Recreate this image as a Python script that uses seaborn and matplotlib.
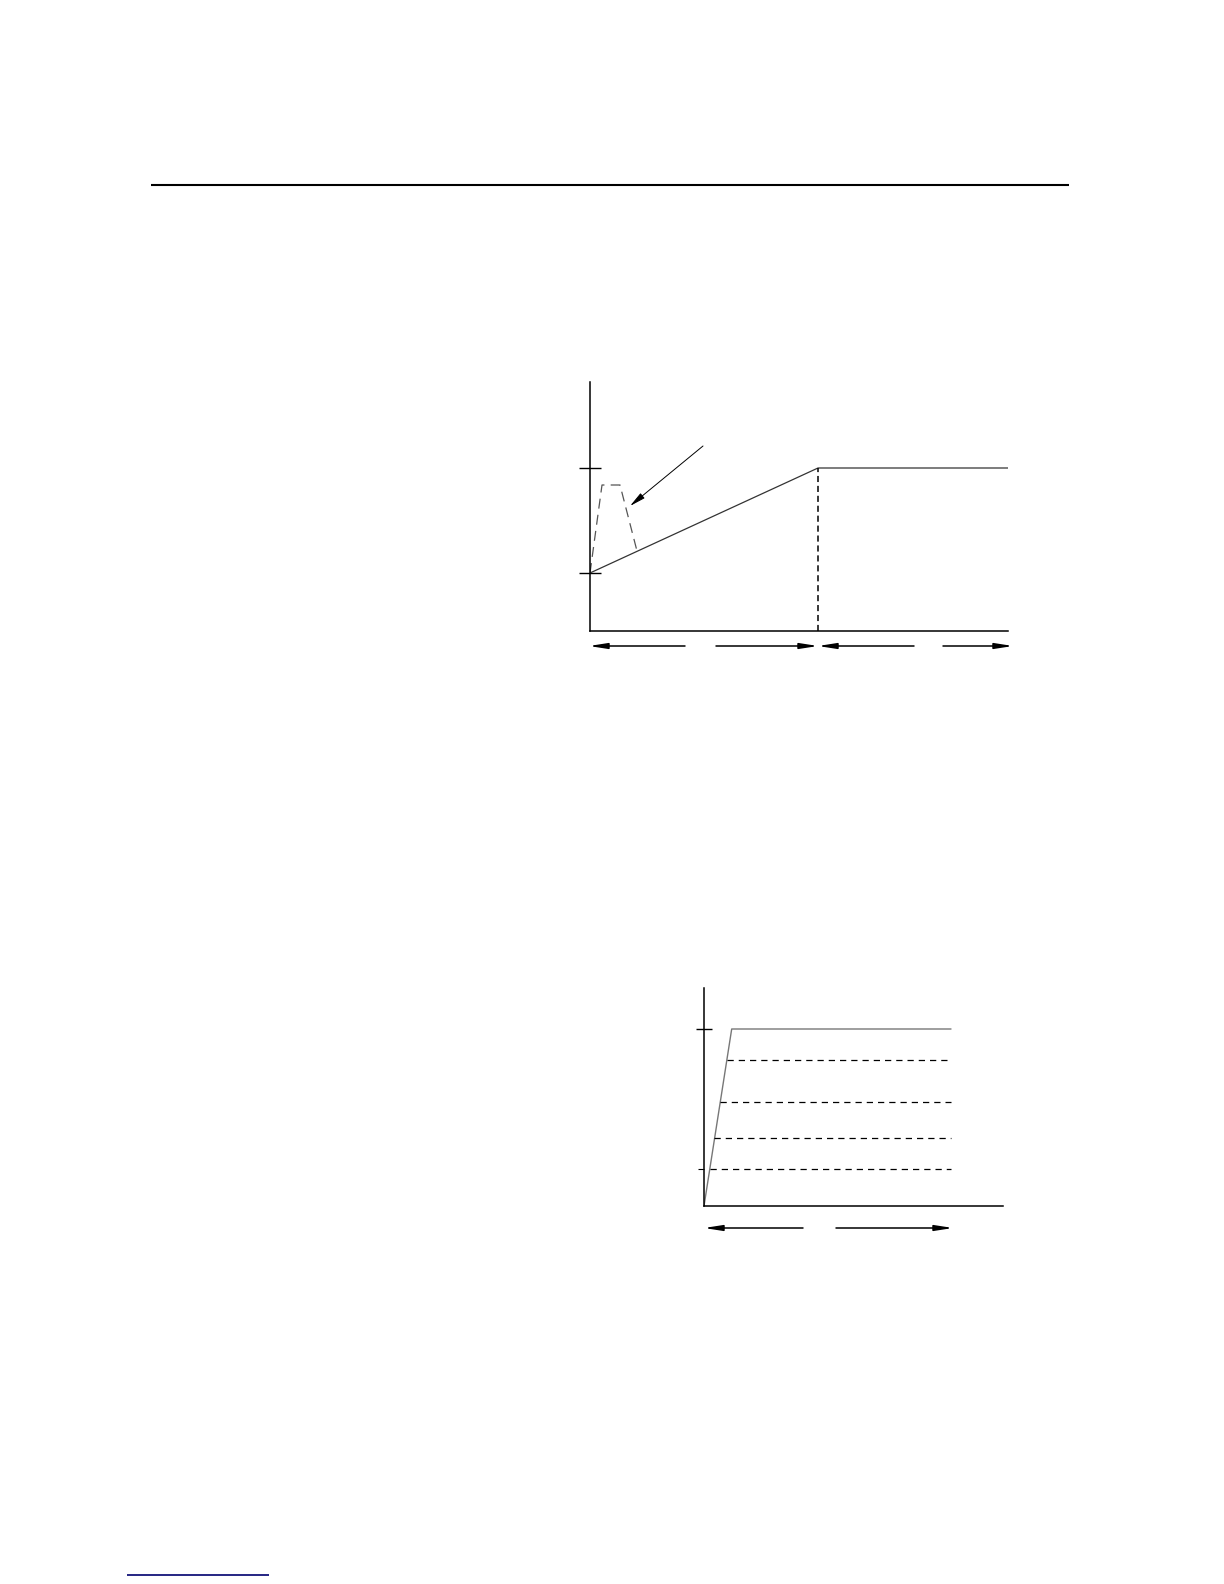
import matplotlib
matplotlib.use("Agg")
import matplotlib.pyplot as plt
import seaborn as sns

W, H, DPI = 1224, 1584, 100

# --- upper diagram (units: pixels from the origin of its axes) ---
top_levels = [58, 163]
top_ramp_x = [0, 228, 418]
top_ramp_y = [58, 163, 163]
top_peak_x = [0, 12, 30, 47]
top_peak_y = [58, 146, 146, 80]
top_split_x = 228
top_pointer = [(113, 185), (40, 125)]
top_spans = [(95, -1), (126, 228), (324, 228), (353, 423)]

# --- lower diagram ---
low_top_level = 177
low_ramp_x = [0, 27.7, 247]
low_ramp_y = [0, 177, 177]
low_dash_levels = [146, 104, 68, 37]
low_dash_start = [22.7, 16.0, 10.0, 6.0]
low_dash_end = 247
low_spans = [(99, 0), (132, 249)]

# --- page decorations (page pixels) ---
rule_x = [151, 1069]
rule_y = [185, 185]
foot_x = [127, 269]
foot_y = [1575, 1575]

sns.set_theme(style="white")
fig = plt.figure(figsize=(W / DPI, H / DPI), dpi=DPI)
fig.patch.set_facecolor("white")

page = fig.add_axes([0, 0, 1, 1])
page.set_xlim(0, W)
page.set_ylim(H, 0)
page.axis("off")
page.plot(rule_x, rule_y, color="black", lw=1.5, solid_capstyle="butt")
page.plot(foot_x, foot_y, color="#14147a", lw=1.3, solid_capstyle="butt")


def make_axes(x0, y0, w, h):
    # x0, y0 = origin pixel (bottom-left), w,h in pixels
    ax = fig.add_axes([x0 / W, (H - y0) / H, w / W, h / H])
    ax.set_xlim(0, w)
    ax.set_ylim(0, h)
    ax.set_facecolor("none")
    sns.despine(ax=ax)
    for s in ("left", "bottom"):
        ax.spines[s].set_color("black")
        ax.spines[s].set_linewidth(1.1)
    ax.set_xticks([])
    return ax


def span_arrow(ax, x_from, x_to, y):
    ax.annotate("", xy=(x_to, y), xytext=(x_from, y), xycoords="data",
                annotation_clip=False,
                arrowprops=dict(arrowstyle="-|>,head_length=0.9,head_width=0.14",
                                color="black", lw=1.1, shrinkA=0, shrinkB=0))


# upper diagram
ax1 = make_axes(590, 631, 418, 249)
sns.lineplot(x=top_ramp_x, y=top_ramp_y, ax=ax1, color="#333333", lw=0.9, sort=False)
sns.lineplot(x=top_peak_x, y=top_peak_y, ax=ax1, color="#555555", lw=0.9,
             sort=False, linestyle=(0, (8, 5)))
ax1.plot([top_split_x, top_split_x], [0, top_levels[1]], color="black",
         lw=1.1, linestyle=(0, (4, 2.5)))
ax1.set_yticks(top_levels)
ax1.set_yticklabels([])
ax1.tick_params(axis="y", direction="inout", length=16.5, width=1.0,
                colors="black", left=True)
ax1.annotate("", xy=top_pointer[1], xytext=top_pointer[0],
             arrowprops=dict(arrowstyle="-|>,head_length=0.8,head_width=0.16",
                             color="black", lw=0.7, shrinkA=0, shrinkB=0))
for a, b in top_spans:
    span_arrow(ax1, a, b, -15)

# lower diagram
ax2 = make_axes(704, 1206, 299, 218)
sns.lineplot(x=low_ramp_x, y=low_ramp_y, ax=ax2, color="#777777", lw=1.0, sort=False)
for lvl, xs in zip(low_dash_levels, low_dash_start):
    ax2.plot([xs, low_dash_end], [lvl, lvl], color="black", lw=0.9,
             linestyle=(0, (5, 4)))
ax2.set_yticks([low_top_level])
ax2.set_yticklabels([])
ax2.set_yticks([low_dash_levels[-1]], minor=True)
ax2.tick_params(axis="y", which="major", direction="inout", length=11.5,
                width=1.0, colors="black", left=True)
ax2.tick_params(axis="y", which="minor", direction="out", length=4.5,
                width=0.8, colors="black", left=True)
for a, b in low_spans:
    span_arrow(ax2, a, b, -22)

fig.savefig("out.png", dpi=DPI, facecolor="white")
